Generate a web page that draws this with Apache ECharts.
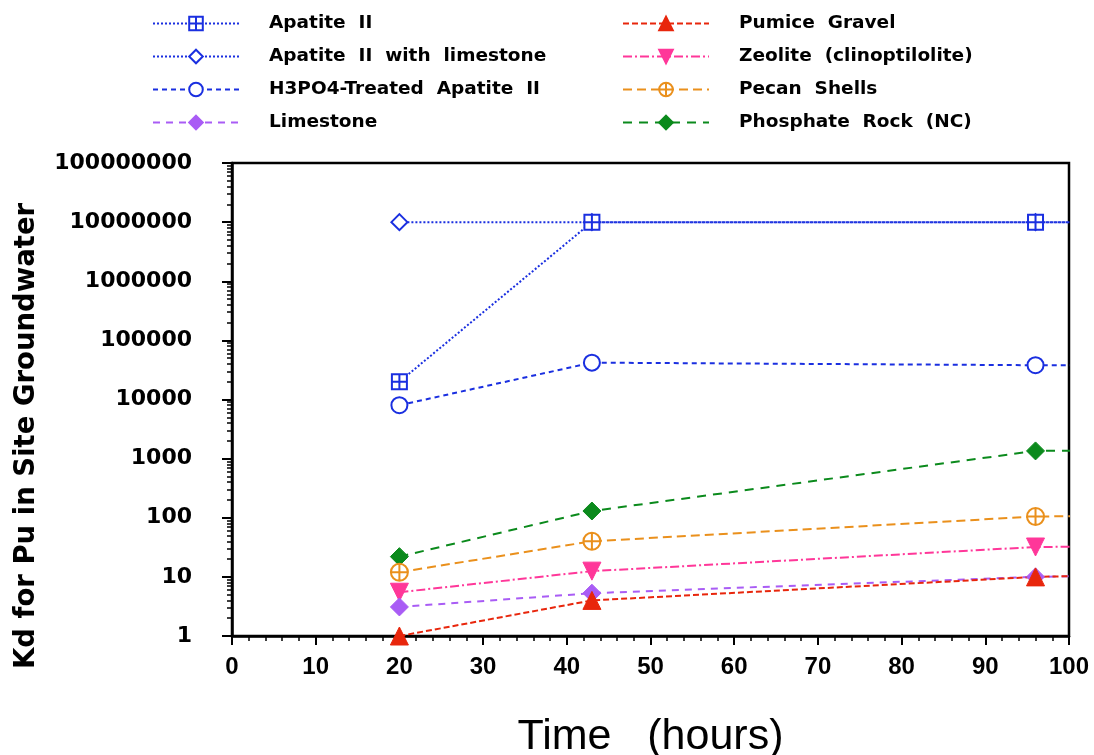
<!DOCTYPE html>
<html><head><meta charset="utf-8">
<script src="https://cdn.jsdelivr.net/npm/echarts@6/dist/echarts.min.js"></script>
<style>html,body{margin:0;padding:0;background:#fff}#c{width:1094px;height:755px}</style>
</head><body><div id="c"></div>
<script>
const times = [20, 43, 96, 168];
const apatiteII = [20000, 10000000, 10000000, 10000000];
const apatiteLime = [10000000, 10000000, 10000000, 10000000];
const h3po4 = [8000, 42000, 38000, 37000];
const limestone = [3.1, 5.3, 10, 15];
const pumice = [1, 4, 10, 16];
const zeolite = [5.5, 12.5, 32, 38];
const pecan = [12, 40, 105, 125];
const phosphate = [22, 130, 1350, 1600];
const yMajorTicks = [1, 10, 100, 1000, 10000, 100000, 1000000, 10000000, 100000000];
const yMinorMult = [2, 3, 4, 5, 6, 7, 8, 9];
const xTicks = [0, 10, 20, 30, 40, 50, 60, 70, 80, 90, 100];

const yMinorTicks = [];
yMajorTicks.slice(0, -1).forEach(d => yMinorMult.forEach(m => yMinorTicks.push(d * m)));

const BLUE = '#1a2fe0', PURPLE = '#a95cf5', RED = '#e8260c', PINK = '#ff3799', ORANGE = '#ea901c', GREEN = '#0b8a1c';
const SQPLUS = 'path://M0,0H10V10H0Z M5,0V10 M0,5H10';
const CPLUS = 'path://M10,0A10,10 0 1,1 10,20A10,10 0 1,1 10,0Z M10,0V20 M0,10H20';
const INVTRI = 'path://M0,0L10,0L5,9Z';

function pts(arr) { return times.map((t, i) => [t, arr[i]]); }
function mk(name, arr, color, dash, symbol, size, filled) {
  return {
    name, type: 'line', data: pts(arr), clip: true,
    symbol, symbolSize: size, showAllSymbol: true,
    lineStyle: { color, width: 2, type: dash },
    itemStyle: filled ? { color, borderColor: color, borderWidth: 1 } : { color: '#fff', borderColor: color, borderWidth: 2 },
    emphasis: { disabled: true }
  };
}
const series = [
  mk('Apatite  II  with  limestone', apatiteLime, BLUE, [2, 2], 'diamond', 16, false),
  mk('Apatite  II', apatiteII, BLUE, [2, 2], SQPLUS, 15, false),
  mk('H3PO4-Treated  Apatite  II', h3po4, BLUE, [5, 4], 'circle', 16, false),
  mk('Phosphate  Rock  (NC)', phosphate, GREEN, [9, 7], 'diamond', 18, true),
  mk('Pecan  Shells', pecan, ORANGE, [9, 5], CPLUS, 17, false),
  mk('Zeolite  (clinoptilolite)', zeolite, PINK, [9, 3, 2, 3], INVTRI, 18, true),
  mk('Limestone', limestone, PURPLE, [7, 6], 'diamond', 18, true),
  mk('Pumice  Gravel', pumice, RED, [6, 3], 'triangle', 18, true)
];

const FONT = 'DejaVu Sans';
const SANS = 'Liberation Sans, Arial, sans-serif';
const legendCommon = {
  orient: 'vertical', top: 14, padding: 0, itemWidth: 86, itemHeight: 17, itemGap: 14,
  selectedMode: false,
  textStyle: { fontFamily: FONT, fontWeight: 'bold', fontSize: 18.5, color: '#000', padding: [0, 0, 0, 25] }
};

const chart = echarts.init(document.getElementById('c'), null, { renderer: 'canvas' });
chart.setOption({
  animation: false,
  backgroundColor: '#fff',
  legend: [
    Object.assign({ left: 152, data: ['Apatite  II', 'Apatite  II  with  limestone', 'H3PO4-Treated  Apatite  II', 'Limestone'] }, legendCommon),
    Object.assign({ left: 622, data: ['Pumice  Gravel', 'Zeolite  (clinoptilolite)', 'Pecan  Shells', 'Phosphate  Rock  (NC)'] }, legendCommon)
  ],
  grid: { left: 232, right: 25, top: 163, bottom: 119, outerBoundsMode: 'none', containLabel: false, show: true, borderColor: '#000', borderWidth: 2.5, backgroundColor: 'transparent' },
  xAxis: {
    type: 'value', min: 0, max: 100, interval: 10,
    name: 'Time   (hours)', nameLocation: 'middle', nameGap: 80,
    nameTextStyle: { fontFamily: SANS, fontSize: 43, color: '#000' },
    axisLine: { lineStyle: { color: '#000', width: 2.5 } },
    axisTick: { length: 9, lineStyle: { color: '#000', width: 2 }, customValues: xTicks },
    minorTick: { show: true, splitNumber: 5, length: 5, lineStyle: { color: '#000', width: 1.5 } },
    axisLabel: { customValues: xTicks, margin: 19, fontFamily: SANS, fontWeight: 'bold', fontSize: 24, color: '#000' },
    splitLine: { show: false }
  },
  yAxis: [
    {
      type: 'log', logBase: 10, min: 1, max: 100000000,
      axisLine: { show: true, lineStyle: { color: '#000', width: 2.5 } },
      axisTick: { show: true, length: 10, lineStyle: { color: '#000', width: 2 }, customValues: yMajorTicks },
      axisLabel: { customValues: yMajorTicks, margin: 40, fontFamily: FONT, fontWeight: 'bold', fontSize: 22, color: '#000', formatter: v => String(Math.round(v)) },
      splitLine: { show: false }
    },
    {
      type: 'log', logBase: 10, min: 1, max: 100000000, position: 'left',
      axisLine: { show: false },
      axisTick: { show: true, length: 5, lineStyle: { color: '#000', width: 1.5 }, customValues: yMinorTicks },
      axisLabel: { show: false },
      splitLine: { show: false }
    }
  ],
  graphic: [{
    type: 'text', x: 27, y: 436, rotation: Math.PI / 2,
    style: { text: 'Kd for Pu in Site Groundwater', fontFamily: FONT, fontWeight: 'bold', fontSize: 27.5, fill: '#000', align: 'center', verticalAlign: 'middle' }
  }],
  series
});
</script></body></html>
